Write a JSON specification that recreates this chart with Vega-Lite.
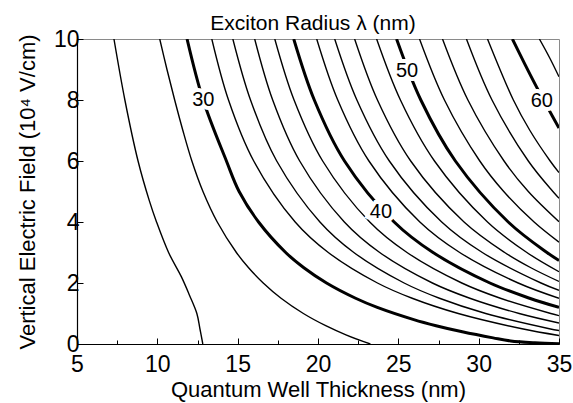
{
  "$schema": "https://vega.github.io/schema/vega-lite/v6.json",
  "width": 482,
  "height": 305,
  "autosize": {"type": "none"},
  "padding": {"left": 77, "top": 39, "right": 14, "bottom": 59},
  "config": {
    "view": {"stroke": "#8a8a8a", "strokeWidth": 1},
    "font": "Liberation Sans"
  },
  "title": {
    "text": "Exciton Radius λ (nm)",
    "fontSize": 21,
    "font": "Liberation Sans",
    "fontWeight": "normal",
    "color": "black",
    "offset": -6,
    "dx": -5
  },
  "datasets": {
    "curves": [
      {"level": 26, "x": 7.3, "y": 10}, {"level": 26, "x": 7.98, "y": 8}, {"level": 26, "x": 8.8, "y": 6}, {"level": 26, "x": 9.5, "y": 4.7}, {"level": 26, "x": 9.95, "y": 4}, {"level": 26, "x": 10.7, "y": 3}, {"level": 26, "x": 11.5, "y": 2.2}, {"level": 26, "x": 12.0, "y": 1.6}, {"level": 26, "x": 12.46, "y": 1.0}, {"level": 26, "x": 12.65, "y": 0.5}, {"level": 26, "x": 12.83, "y": 0},
      {"level": 28, "x": 10.15, "y": 10}, {"level": 28, "x": 10.6, "y": 9}, {"level": 28, "x": 11.08, "y": 8}, {"level": 28, "x": 11.59, "y": 7}, {"level": 28, "x": 12.15, "y": 6}, {"level": 28, "x": 12.84, "y": 5}, {"level": 28, "x": 13.73, "y": 4}, {"level": 28, "x": 14.92, "y": 3}, {"level": 28, "x": 15.68, "y": 2.5}, {"level": 28, "x": 16.59, "y": 2}, {"level": 28, "x": 17.7, "y": 1.5}, {"level": 28, "x": 19.09, "y": 1}, {"level": 28, "x": 20.48, "y": 0.6}, {"level": 28, "x": 21.74, "y": 0.3}, {"level": 28, "x": 23.26, "y": 0},
      {"level": 30, "x": 11.85, "y": 10}, {"level": 30, "x": 12.85, "y": 8}, {"level": 30, "x": 14.3, "y": 6}, {"level": 30, "x": 15.09, "y": 5}, {"level": 30, "x": 16.3, "y": 4}, {"level": 30, "x": 17.99, "y": 3}, {"level": 30, "x": 19.12, "y": 2.5}, {"level": 30, "x": 20.53, "y": 2}, {"level": 30, "x": 22.34, "y": 1.5}, {"level": 30, "x": 23.69, "y": 1.2}, {"level": 30, "x": 25.96, "y": 0.8}, {"level": 30, "x": 27.35, "y": 0.6}, {"level": 30, "x": 28.98, "y": 0.4}, {"level": 30, "x": 30.9, "y": 0.2}, {"level": 30, "x": 31.99, "y": 0.1}, {"level": 30, "x": 33.5, "y": 0.04}, {"level": 30, "x": 35.0, "y": 0.01},
      {"level": 32, "x": 13.39, "y": 10}, {"level": 32, "x": 14.43, "y": 8}, {"level": 32, "x": 16.0, "y": 6}, {"level": 32, "x": 18.58, "y": 4}, {"level": 32, "x": 20.64, "y": 3}, {"level": 32, "x": 23.7, "y": 2}, {"level": 32, "x": 25.86, "y": 1.5}, {"level": 32, "x": 28.73, "y": 1}, {"level": 32, "x": 32.7, "y": 0.5}, {"level": 32, "x": 35.0, "y": 0.28},
      {"level": 34, "x": 14.7, "y": 10}, {"level": 34, "x": 15.8, "y": 8}, {"level": 34, "x": 17.43, "y": 6}, {"level": 34, "x": 20.12, "y": 4}, {"level": 34, "x": 22.23, "y": 3}, {"level": 34, "x": 25.36, "y": 2}, {"level": 34, "x": 27.56, "y": 1.5}, {"level": 34, "x": 30.44, "y": 1}, {"level": 34, "x": 34.4, "y": 0.5}, {"level": 34, "x": 35.0, "y": 0.44},
      {"level": 36, "x": 16.06, "y": 10}, {"level": 36, "x": 17.18, "y": 8}, {"level": 36, "x": 18.86, "y": 6}, {"level": 36, "x": 21.64, "y": 4}, {"level": 36, "x": 23.84, "y": 3}, {"level": 36, "x": 27.12, "y": 2}, {"level": 36, "x": 29.45, "y": 1.5}, {"level": 36, "x": 32.52, "y": 1}, {"level": 36, "x": 35.0, "y": 0.69},
      {"level": 38, "x": 17.31, "y": 10}, {"level": 38, "x": 18.51, "y": 8}, {"level": 38, "x": 20.29, "y": 6}, {"level": 38, "x": 23.22, "y": 4}, {"level": 38, "x": 25.54, "y": 3}, {"level": 38, "x": 28.95, "y": 2}, {"level": 38, "x": 31.35, "y": 1.5}, {"level": 38, "x": 34.49, "y": 1}, {"level": 38, "x": 35.0, "y": 0.93},
      {"level": 40, "x": 18.49, "y": 10}, {"level": 40, "x": 19.77, "y": 8}, {"level": 40, "x": 21.65, "y": 6}, {"level": 40, "x": 24.74, "y": 4}, {"level": 40, "x": 27.16, "y": 3}, {"level": 40, "x": 30.7, "y": 2}, {"level": 40, "x": 33.17, "y": 1.5}, {"level": 40, "x": 35.0, "y": 1.2},
      {"level": 42, "x": 19.92, "y": 10}, {"level": 42, "x": 21.23, "y": 8}, {"level": 42, "x": 23.17, "y": 6}, {"level": 42, "x": 26.34, "y": 4}, {"level": 42, "x": 28.82, "y": 3}, {"level": 42, "x": 32.46, "y": 2}, {"level": 42, "x": 35.0, "y": 1.5},
      {"level": 44, "x": 21.04, "y": 10}, {"level": 44, "x": 22.42, "y": 8}, {"level": 44, "x": 24.44, "y": 6}, {"level": 44, "x": 27.7, "y": 4}, {"level": 44, "x": 30.23, "y": 3}, {"level": 44, "x": 33.88, "y": 2}, {"level": 44, "x": 35.0, "y": 1.76},
      {"level": 46, "x": 22.28, "y": 10}, {"level": 46, "x": 23.7, "y": 8}, {"level": 46, "x": 25.77, "y": 6}, {"level": 46, "x": 29.09, "y": 4}, {"level": 46, "x": 31.62, "y": 3}, {"level": 46, "x": 33.25, "y": 2.5}, {"level": 46, "x": 35.0, "y": 2.05},
      {"level": 48, "x": 23.65, "y": 10}, {"level": 48, "x": 25.13, "y": 8}, {"level": 48, "x": 27.25, "y": 6}, {"level": 48, "x": 30.55, "y": 4}, {"level": 48, "x": 33.0, "y": 3}, {"level": 48, "x": 35.0, "y": 2.37},
      {"level": 50, "x": 24.89, "y": 10}, {"level": 50, "x": 26.4, "y": 8}, {"level": 50, "x": 28.55, "y": 6}, {"level": 50, "x": 31.84, "y": 4}, {"level": 50, "x": 34.25, "y": 3}, {"level": 50, "x": 35.0, "y": 2.74},
      {"level": 52, "x": 26.32, "y": 10}, {"level": 52, "x": 27.87, "y": 8}, {"level": 52, "x": 30.07, "y": 6}, {"level": 52, "x": 31.56, "y": 5}, {"level": 52, "x": 33.45, "y": 4}, {"level": 52, "x": 35.0, "y": 3.34},
      {"level": 54, "x": 27.75, "y": 10}, {"level": 54, "x": 29.33, "y": 8}, {"level": 54, "x": 31.58, "y": 6}, {"level": 54, "x": 33.09, "y": 5}, {"level": 54, "x": 35.0, "y": 4.01},
      {"level": 56, "x": 29.24, "y": 10}, {"level": 56, "x": 30.83, "y": 8}, {"level": 56, "x": 33.09, "y": 6}, {"level": 56, "x": 34.62, "y": 5}, {"level": 56, "x": 35.0, "y": 4.78},
      {"level": 58, "x": 30.55, "y": 10}, {"level": 58, "x": 32.16, "y": 8}, {"level": 58, "x": 33.19, "y": 7}, {"level": 58, "x": 34.45, "y": 6}, {"level": 58, "x": 35.0, "y": 5.62},
      {"level": 60, "x": 32.1, "y": 10}, {"level": 60, "x": 32.85, "y": 9.2}, {"level": 60, "x": 33.6, "y": 8.43}, {"level": 60, "x": 34.3, "y": 7.75}, {"level": 60, "x": 35.0, "y": 7.08},
      {"level": 62, "x": 33.78, "y": 10}, {"level": 62, "x": 34.4, "y": 9.4}, {"level": 62, "x": 35.0, "y": 8.76}
    ],
    "labels": [
      {"label": "30", "x": 12.86, "y": 8.0},
      {"label": "40", "x": 23.92, "y": 4.33},
      {"label": "50", "x": 25.54, "y": 8.95},
      {"label": "60", "x": 33.93, "y": 7.97}
    ]
  },
  "layer": [
    {
      "data": {"name": "curves"},
      "mark": {"type": "line", "interpolate": "catmull-rom", "clip": true, "color": "black"},
      "encoding": {
        "x": {
          "field": "x", "type": "quantitative",
          "scale": {"domain": [5, 35], "nice": false, "zero": false},
          "axis": {
            "title": "Quantum Well Thickness (nm)",
            "titleFontSize": 22, "titleFontWeight": "normal", "titleColor": "black", "titleFont": "Liberation Sans", "titlePadding": 1,
            "labelFontSize": 23, "labelColor": "black", "labelFont": "Liberation Sans", "labelFlush": false, "labelOverlap": false, "labelPadding": 15,
            "values": [5, 7.5, 10, 12.5, 15, 17.5, 20, 22.5, 25, 27.5, 30, 32.5, 35],
            "labelExpr": "datum.value % 5 === 0 ? datum.label : ''",
            "tickSize": {"condition": {"test": "datum.value % 5 === 0", "value": -6}, "value": -4},
            "tickColor": "black", "tickWidth": 1, "domainColor": "black", "domainWidth": 1.2, "grid": false
          }
        },
        "y": {
          "field": "y", "type": "quantitative",
          "scale": {"domain": [0, 10], "nice": false, "zero": false},
          "axis": {
            "title": "Vertical Electric Field (10⁴ V/cm)",
            "titleFontSize": 22, "titleFontWeight": "normal", "titleColor": "black", "titleFont": "Liberation Sans", "titlePadding": 14,
            "labelFontSize": 23, "labelColor": "black", "labelFont": "Liberation Sans", "labelFlush": false, "labelOverlap": false, "labelPadding": 4,
            "values": [0, 1, 2, 3, 4, 5, 6, 7, 8, 9, 10],
            "labelExpr": "datum.value % 2 === 0 ? datum.label : ''",
            "tickSize": {"condition": {"test": "datum.value % 2 === 0", "value": -6}, "value": -4},
            "tickColor": "black", "tickWidth": 1, "domainColor": "black", "domainWidth": 1.2, "grid": false
          }
        },
        "detail": {"field": "level", "type": "nominal"},
        "strokeWidth": {"condition": {"test": "datum.level % 10 === 0", "value": 3}, "value": 1.4}
      }
    },
    {
      "data": {"name": "labels"},
      "mark": {"type": "text", "fontSize": 20, "font": "Liberation Sans", "fill": "white", "stroke": "white", "strokeWidth": 8, "baseline": "middle", "align": "center"},
      "encoding": {
        "x": {"field": "x", "type": "quantitative"},
        "y": {"field": "y", "type": "quantitative"},
        "text": {"field": "label"}
      }
    },
    {
      "data": {"name": "labels"},
      "mark": {"type": "text", "fontSize": 20, "font": "Liberation Sans", "color": "black", "baseline": "middle", "align": "center"},
      "encoding": {
        "x": {"field": "x", "type": "quantitative"},
        "y": {"field": "y", "type": "quantitative"},
        "text": {"field": "label"}
      }
    }
  ]
}
